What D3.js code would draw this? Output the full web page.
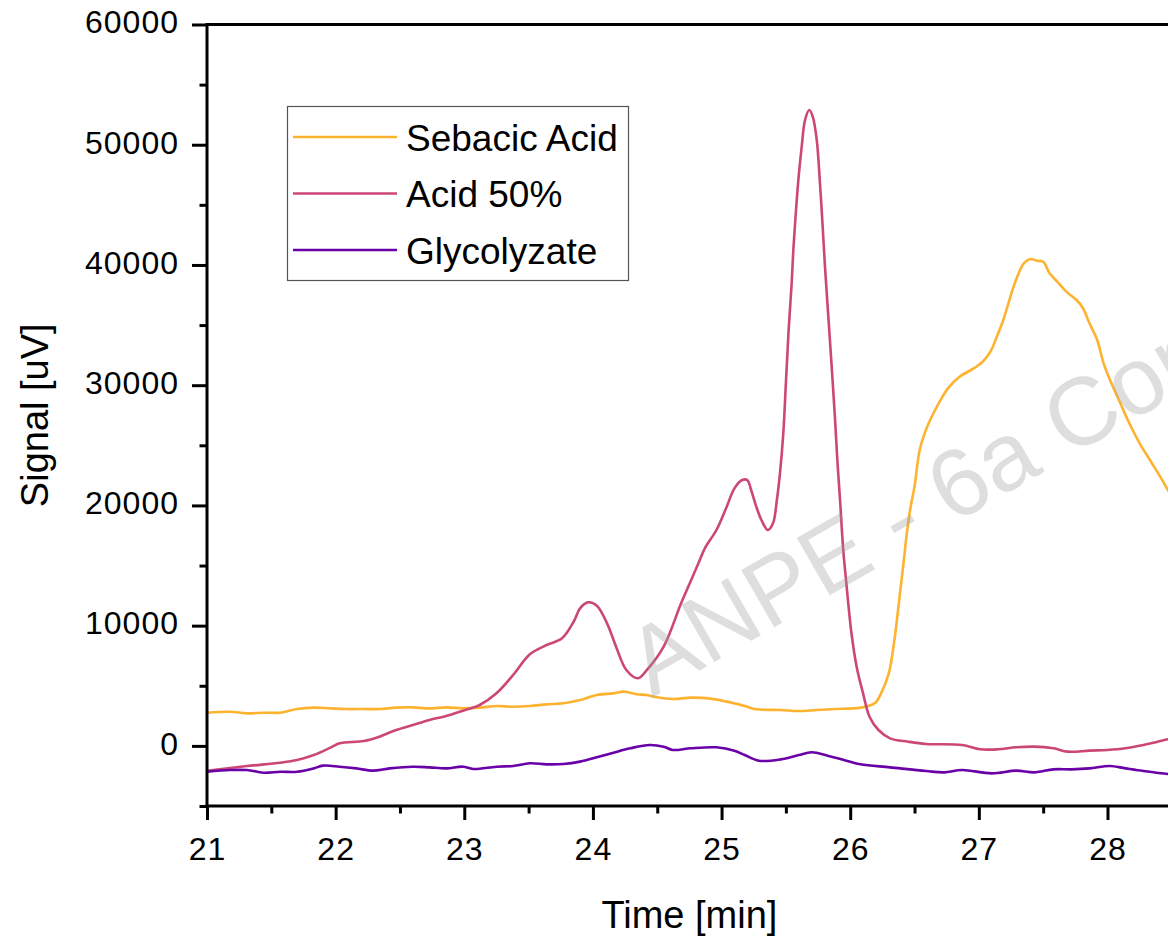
<!DOCTYPE html>
<html>
<head>
<meta charset="utf-8">
<script src="https://cdn.jsdelivr.net/npm/d3@7/dist/d3.min.js"></script>
<style>
  html, body { margin: 0; padding: 0; background: #fff; }
  svg { display: block; }
</style>
</head>
<body>
<svg id="chart" width="1168" height="936"></svg>
<script>
// ---------------- DATA ----------------
const seriesNames = ["Sebacic Acid", "Acid 50%", "Glycolyzate"];
const seriesColors = ["#FDB32F", "#CC4778", "#6A00A8"];

const xTicksMajor = [21, 22, 23, 24, 25, 26, 27, 28];
const yTicksMajor = [0, 10000, 20000, 30000, 40000, 50000, 60000];

// [time (min), signal (uV)]
const sebacicAcid = [
  [21.00,2760],[21.18,2840],[21.31,2705],[21.44,2760],[21.57,2760],[21.70,3065],
  [21.83,3180],[21.96,3120],[22.08,3065],[22.22,3065],[22.34,3065],[22.47,3180],
  [22.60,3205],[22.73,3120],[22.86,3205],[22.99,3120],[23.12,3180],[23.25,3315],
  [23.38,3260],[23.51,3315],[23.64,3455],[23.77,3540],[23.90,3815],[24.03,4230],
  [24.16,4370],[24.24,4510],[24.34,4290],[24.42,4230],[24.50,4040],[24.62,3900],
  [24.76,4010],[24.90,3955],[25.04,3680],[25.18,3315],[25.27,3040],[25.46,2985],
  [25.60,2900],[25.74,2985],[25.88,3065],[26.08,3180],[26.19,3540],[26.24,4370],
  [26.30,6035],[26.34,8530],[26.36,10190],[26.39,12960],[26.42,15740],[26.44,17680],
  [26.47,19895],[26.50,21560],[26.52,23225],[26.54,24610],[26.57,25720],[26.61,26830],
  [26.66,27935],[26.71,28905],[26.76,29740],[26.85,30700],[26.96,31395],[27.03,31950],
  [27.09,32787],[27.14,34035],[27.19,35424],[27.23,36813],[27.27,38193],[27.31,39308],
  [27.35,40140],[27.40,40497],[27.45,40356],[27.50,40272],[27.55,39308],[27.61,38609],
  [27.68,37778],[27.76,37087],[27.81,36397],[27.86,35149],[27.92,33760],[27.97,31822],
  [28.02,30433],[28.10,28495],[28.17,26831],[28.25,25168],[28.33,23779],[28.41,22390],
  [28.47,21284],[28.50,20800]
];

const acid50 = [
  [21.00,-2070],[21.31,-1680],[21.57,-1400],[21.70,-1180],[21.83,-765],[21.96,-150],
  [22.03,210],[22.22,405],[22.34,765],[22.47,1320],[22.60,1735],[22.73,2155],
  [22.86,2485],[22.99,2930],[23.12,3400],[23.25,4370],[23.38,5900],[23.51,7620],
  [23.64,8390],[23.76,8945],[23.85,10325],[23.90,11435],[23.96,11935],[24.03,11665],
  [24.11,10190],[24.18,8250],[24.26,6315],[24.35,5620],[24.42,6315],[24.55,8250],
  [24.68,11715],[24.73,12965],[24.82,15185],[24.87,16430],[24.96,17955],[25.04,19895],
  [25.10,21420],[25.16,22110],[25.20,22110],[25.23,21280],[25.27,19895],[25.31,18785],
  [25.36,17957],[25.40,18515],[25.43,20452],[25.454,22673],[25.48,26000],[25.50,30158],
  [25.52,34317],[25.545,38476],[25.558,41246],[25.579,44573],[25.597,47068],[25.623,49840],
  [25.649,52058],[25.682,52890],[25.709,52333],[25.740,50395],[25.765,46794],[25.786,43185],
  [25.804,39857],[25.830,35699],[25.856,31540],[25.881,27381],[25.900,23779],[25.921,20452],
  [25.946,16293],[25.97,13520],[26.01,9365],[26.05,6585],[26.10,4370],[26.15,2425],
  [26.22,1320],[26.31,625],[26.45,350],[26.59,158],[26.87,75],[27.01,-285],
  [27.15,-285],[27.29,-120],[27.43,-65],[27.58,-200],[27.69,-480],[27.86,-395],
  [28.00,-340],[28.14,-200],[28.28,75],[28.39,350],[28.47,550],[28.50,610]
];

const glycolyzate = [
  [21.00,-2150],[21.18,-2010],[21.31,-2010],[21.44,-2230],[21.57,-2150],[21.70,-2150],
  [21.83,-1870],[21.90,-1645],[22.03,-1730],[22.16,-1870],[22.29,-2060],[22.42,-1870],
  [22.60,-1730],[22.73,-1785],[22.86,-1870],[22.99,-1730],[23.07,-1920],[23.25,-1730],
  [23.38,-1675],[23.51,-1450],[23.64,-1535],[23.77,-1505],[23.90,-1310],[24.03,-950],
  [24.16,-565],[24.29,-200],[24.44,75],[24.55,-65],[24.62,-340],[24.76,-200],
  [24.96,-120],[25.10,-395],[25.18,-760],[25.29,-1230],[25.46,-1120],[25.60,-760],
  [25.70,-535],[25.83,-840],[25.97,-1230],[26.08,-1535],[26.31,-1785],[26.59,-2090],
  [26.73,-2200],[26.87,-2010],[27.10,-2285],[27.29,-2060],[27.43,-2200],[27.58,-1950],
  [27.72,-1950],[27.86,-1870],[28.02,-1675],[28.14,-1870],[28.28,-2090],[28.47,-2340],
  [28.50,-2360]
];

const allSeries = [sebacicAcid, acid50, glycolyzate];

// ---------------- CHART ----------------
const svg = d3.select("#chart");
const FONT = "'Liberation Sans', Arial, sans-serif";

const x = d3.scaleLinear().domain([21, 28.5]).range([207, 1171.8]);
const y = d3.scaleLinear().domain([-5000, 60000]).range([806, 24.5]);

const plotL = x.range()[0], plotR = x.range()[1];
const plotT = y.range()[1], plotB = y.range()[0];

svg.append("defs").append("clipPath").attr("id", "plotClip")
  .append("rect").attr("x", plotL).attr("y", plotT)
  .attr("width", plotR - plotL).attr("height", plotB - plotT);

// data lines
const line = d3.line().x(d => x(d[0])).y(d => y(d[1])).curve(d3.curveCatmullRom.alpha(0.5));
const gLines = svg.append("g").attr("clip-path", "url(#plotClip)");
allSeries.forEach((s, i) => {
  gLines.append("path").datum(s)
    .attr("d", line)
    .attr("fill", "none")
    .attr("stroke", seriesColors[i])
    .attr("stroke-width", 2.6)
    .attr("stroke-linejoin", "round");
});

// axes
const yMinor = d3.range(-5000, 60001, 5000).filter(v => v % 10000 !== 0);
const xMinor = d3.range(21.5, 28.5, 1);

const yAxis = d3.axisLeft(y).tickValues(yTicksMajor).tickSize(15).tickPadding(13)
  .tickFormat(d3.format("d"));
const gy = svg.append("g").attr("transform", `translate(${plotL},0)`).call(yAxis);
gy.select(".domain").remove();
gy.selectAll(".tick line").attr("stroke", "#000").attr("stroke-width", 3);
gy.selectAll(".tick text").attr("font-family", FONT).attr("font-size", 32)
  .attr("letter-spacing", 1).attr("fill", "#000").attr("dy", "0.26em");

const gyMinor = svg.append("g").attr("transform", `translate(${plotL},0)`)
  .call(d3.axisLeft(y).tickValues(yMinor).tickSize(7.5).tickFormat(""));
gyMinor.select(".domain").remove();
gyMinor.selectAll(".tick line").attr("stroke", "#000").attr("stroke-width", 3);

const xAxis = d3.axisBottom(x).tickValues(xTicksMajor).tickSize(14).tickPadding(10)
  .tickFormat(d3.format("d"));
const gx = svg.append("g").attr("transform", `translate(0,${plotB})`).call(xAxis);
gx.select(".domain").remove();
gx.selectAll(".tick line").attr("stroke", "#000").attr("stroke-width", 3);
gx.selectAll(".tick text").attr("font-family", FONT).attr("font-size", 32)
  .attr("letter-spacing", 1).attr("fill", "#000").attr("dy", "0.95em");

const gxMinor = svg.append("g").attr("transform", `translate(0,${plotB})`)
  .call(d3.axisBottom(x).tickValues(xMinor).tickSize(7.5).tickFormat(""));
gxMinor.select(".domain").remove();
gxMinor.selectAll(".tick line").attr("stroke", "#000").attr("stroke-width", 3);

// frame lines
svg.append("line").attr("x1", plotL).attr("x2", plotL).attr("y1", plotT - 1.5).attr("y2", plotB + 1.5)
  .attr("stroke", "#000").attr("stroke-width", 3);
svg.append("line").attr("x1", plotL - 1.5).attr("x2", plotR).attr("y1", plotB).attr("y2", plotB)
  .attr("stroke", "#000").attr("stroke-width", 3);
svg.append("line").attr("x1", plotL).attr("x2", plotR).attr("y1", plotT).attr("y2", plotT)
  .attr("stroke", "#000").attr("stroke-width", 3);
svg.append("line").attr("x1", plotR).attr("x2", plotR).attr("y1", plotT).attr("y2", plotB)
  .attr("stroke", "#000").attr("stroke-width", 3);

// axis titles
svg.append("text").attr("x", (plotL + plotR) / 2).attr("y", 928)
  .attr("text-anchor", "middle").attr("font-family", FONT).attr("font-size", 38)
  .attr("fill", "#000").text("Time [min]");
svg.append("text").attr("transform", `translate(48,${(plotT + plotB) / 2}) rotate(-90)`)
  .attr("text-anchor", "middle").attr("font-family", FONT).attr("font-size", 38)
  .attr("fill", "#000").text("Signal [uV]");

// legend
const legend = svg.append("g");
legend.append("rect").attr("x", 287.5).attr("y", 106.5).attr("width", 341).attr("height", 174)
  .attr("fill", "#fff").attr("stroke", "#555").attr("stroke-width", 1.2);
seriesNames.forEach((name, i) => {
  const ly = 137 + i * 56.5;
  legend.append("line").attr("x1", 293).attr("x2", 397).attr("y1", ly).attr("y2", ly)
    .attr("stroke", seriesColors[i]).attr("stroke-width", 2.6);
  legend.append("text").attr("x", 406).attr("y", ly + 13.5)
    .attr("font-family", FONT).attr("font-size", 37).attr("fill", "#000").text(name);
});

// watermark
svg.append("text").attr("transform", "translate(652,698) rotate(-30)")
  .attr("font-family", FONT).attr("font-size", 96)
  .attr("fill", "#9a9a9a").attr("fill-opacity", 0.33)
  .text("ANPE - 6a Con");
</script>
</body>
</html>
